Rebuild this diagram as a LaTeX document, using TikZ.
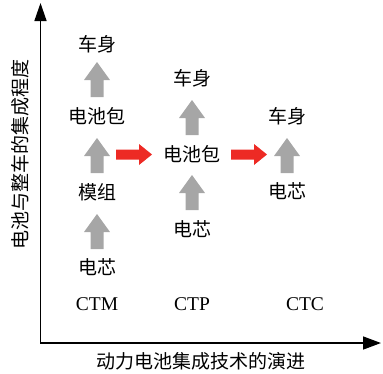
\documentclass[tikz,border=0pt]{standalone}
\usepackage{fontspec}
\setmainfont{Liberation Serif}
\newfontfamily\cjk{Noto Sans CJK SC}
\usetikzlibrary{arrows.meta}
\definecolor{upgray}{HTML}{A6A6A6}
\definecolor{rred}{HTML}{ED2A24}
\begin{document}
\begin{tikzpicture}[x=1pt,y=-1pt,
  lbl/.style={font=\cjk\fontsize{19}{19}\selectfont, inner sep=0pt},
  tech/.style={font=\fontsize{19.5}{20}\selectfont, inner sep=0pt},
  axis/.style={line width=1.5pt, line join=miter},
  uparrow/.pic={\fill[upgray] (0,0) -- (13,18) -- (6.5,18) -- (6.5,35) -- (-6.5,35) -- (-6.5,18) -- (-13,18) -- cycle;},
  rarrow/.pic={\fill[rred] (0,0) -- (-13,-10.5) -- (-13,-5) -- (-36,-5) -- (-36,5) -- (-13,5) -- (-13,10.5) -- cycle;}]
\useasboundingbox (0,0) rectangle (383,373);
% axes
\coordinate (O) at (40.5,343);
\coordinate (Y) at (40.5,3);
\coordinate (X) at (381,343);
\draw[axis, {Triangle[length=18pt,width=12pt]}-{Triangle[length=18pt,width=13pt]}] (Y) -- (O) -- (X);
\node[lbl, rotate=90] (ylab) at (20,154) {电池与整车的集成程度};
\node[lbl] (xlab) at (201,361) {动力电池集成技术的演进};
% column CTM
\node[lbl] (a1) at (97,44) {车身};
\pic at (97,62) {uparrow};
\node[lbl] (a2) at (97,116) {电池包};
\pic at (97,138) {uparrow};
\node[lbl] (a3) at (97,192) {模组};
\pic at (97,214) {uparrow};
\node[lbl] (a4) at (97,267) {电芯};
\node[tech] (ctm) at (97,304.5) {CTM};
% column CTP
\node[lbl] (b1) at (192,78.5) {车身};
\pic at (192,100) {uparrow};
\node[lbl] (b2) at (192,154) {电池包};
\pic at (192,175) {uparrow};
\node[lbl] (b3) at (192,229) {电芯};
\node[tech] (ctp) at (192,304.5) {CTP};
% column CTC
\node[lbl] (c1) at (287,116.5) {车身};
\pic at (287,138) {uparrow};
\node[lbl] (c2) at (287,191) {电芯};
\node[tech] (ctc) at (305,304.5) {CTC};
% red arrows
\pic at (152,154.5) {rarrow};
\pic at (267,154.5) {rarrow};
\end{tikzpicture}
\end{document}
